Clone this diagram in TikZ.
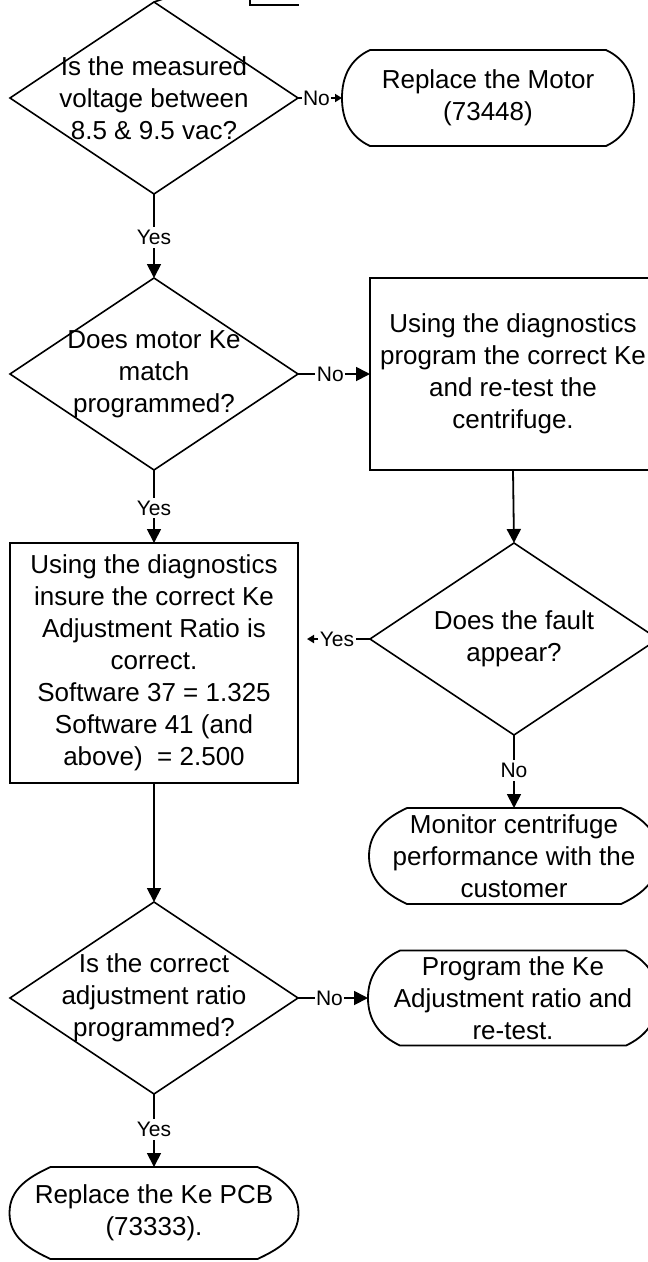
\documentclass[tikz,border=0pt]{standalone}
\usepackage{fontspec}
\setmainfont{Liberation Sans}
\usetikzlibrary{shapes.geometric,arrows.meta}
\newcommand\termpath[2]{%
  \draw[outline] ([xshift=#2]#1.north west) -- ([xshift=-#2]#1.north east)
    to[out=-25,in=90] (#1.east) to[out=-90,in=25] ([xshift=-#2]#1.south east)
    -- ([xshift=#2]#1.south west) to[out=155,in=-90] (#1.west)
    to[out=90,in=205] cycle;}
\tikzset{
  outline/.style={line width=1.8pt, line join=miter},
  decision/.style={diamond, draw, line width=1.6pt, minimum width=288pt,
    minimum height=192pt, inner sep=0pt, outer sep=0pt, aspect=1.5},
  txt/.style={align=center, font=\fontsize{26}{32}\selectfont, inner sep=0pt},
  procbox/.style={rectangle, draw, line width=1.8pt, align=center,
    font=\fontsize{26}{32}\selectfont, inner sep=0pt, outer sep=0pt},
  termbox/.style={rectangle, align=center, font=\fontsize{26}{32}\selectfont,
    inner sep=0pt, outer sep=0pt},
  conn/.style={line width=1.8pt, -{Triangle[length=14pt,width=14pt]}},
  sconn/.style={line width=1.8pt, -{Triangle[length=7pt,width=8pt]}},
  lab/.style={fill=white, font=\fontsize{21}{24}\selectfont, inner xsep=1.5pt, inner ysep=3pt},
}
\begin{document}
\begin{tikzpicture}[x=1pt,y=1pt]
\useasboundingbox (0,0) rectangle (648,-1262);
\clip (0,0) rectangle (648,-1262);
\fill[white] (0,0) rectangle (648,-1262);

% fragments at the top edge
\coordinate (topin) at (172,4);
\draw[line width=1.8pt] (250,4) -- (250,-5) -- (299,-5);

% row 1
\node[decision] (d1) at (154,-98) {};
\node[txt] (d1t) at (d1.center) {Is the measured\\voltage between\\8.5 \& 9.5 vac?};
\node[termbox, minimum width=292pt, minimum height=96pt] (t1) at (488,-98) {Replace the Motor\\(73448)};
\termpath{t1}{28pt}
\draw[line width=1.6pt] (d1.north) -- (topin);

% row 2
\node[decision] (d2) at (154,-374) {};
\node[txt] (d2t) at (d2.center) {Does motor Ke\\match\\programmed?};
\node[procbox, minimum width=286pt, minimum height=192pt] (r1) at (513,-374)
  {Using the diagnostics\\program the correct Ke\\and re-test the\\centrifuge.};

% row 3
\node[decision] (d3) at (514,-639) {};
\node[txt] (d3t) at (d3.center) {Does the fault\\appear?};
\node[procbox, minimum width=288pt, minimum height=240pt] (l1) at (154,-663)
  {Using the diagnostics\\insure the correct Ke\\Adjustment Ratio is\\correct.\\Software 37 = 1.325\\Software 41 (and\\above)~ = 2.500};
\node[termbox, minimum width=290pt, minimum height=96pt] (mon) at (514,-856)
  {Monitor centrifuge\\performance with the\\customer};
\termpath{mon}{38pt}

% row 4
\node[decision] (d4) at (154,-998) {};
\node[txt] (d4t) at (d4.center) {Is the correct\\adjustment ratio\\programmed?};
\node[termbox, minimum width=290pt, minimum height=95pt] (t3) at (513,-998)
  {Program the Ke\\Adjustment ratio and\\re-test.};
\termpath{t3}{32pt}

% final
\node[termbox, minimum width=289pt, minimum height=92pt] (tf) at (154,-1213)
  {Replace the Ke PCB\\(73333).};
\termpath{tf}{41pt}

% connectors
\draw[sconn] (d1.east) -- node[lab, pos=0.42] (n1) {No} (t1.west);
\draw[conn] (d1.south) -- node[lab, pos=0.52] (y1) {Yes} (d2.north);
\draw[conn] (d2.east) -- node[lab, pos=0.45] (n2) {No} (r1.west);
\draw[conn] (d2.south) -- node[lab, pos=0.52] (y2) {Yes} (l1.north);
\draw[conn] (r1.south) -- (d3.north);
\draw[sconn, shorten >=9pt] (d3.west) -- node[lab, pos=0.46] (y3) {Yes} (d3.west -| l1.east);
\draw[conn] (d3.south) -- node[lab, pos=0.49] (n3) {No} (mon.north);
\draw[conn] (l1.south) -- (d4.north);
\draw[conn] (d4.east) -- node[lab, pos=0.45] (n4) {No} (t3.west);
\draw[conn] (d4.south) -- node[lab, pos=0.49] (y4) {Yes} (tf.north);
\end{tikzpicture}
\end{document}
